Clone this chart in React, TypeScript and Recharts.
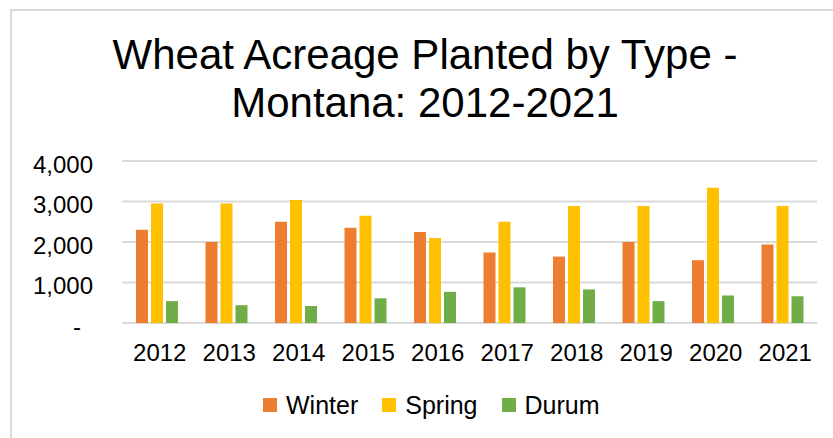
import React from "react";
import { BarChart, Bar, XAxis, YAxis, CartesianGrid } from "recharts";

const years = ["2012", "2013", "2014", "2015", "2016", "2017", "2018", "2019", "2020", "2021"];
const winter = [2300, 2000, 2500, 2350, 2250, 1740, 1640, 2000, 1550, 1940];
const spring = [2950, 2950, 3040, 2650, 2100, 2500, 2890, 2890, 3340, 2890];
const durum = [540, 440, 420, 610, 770, 880, 830, 540, 680, 660];
const yTicks = [0, 1000, 2000, 3000, 4000];

const seriesNames = ["Winter", "Spring", "Durum"];
const seriesColors = ["#ED7D31", "#FFC000", "#70AD47"];

const data = years.map((y, i) => ({ year: y, Winter: winter[i], Spring: spring[i], Durum: durum[i] }));

const FONT = "'Liberation Sans', Arial, sans-serif";

const fmt = (v: number) => (v === 0 ? "-" : v.toLocaleString("en-US"));

const YTick = (props: any) => {
  const { x, y, payload } = props;
  const v = payload.value as number;
  return (
    <text x={x} y={y} dx={v === 0 ? -12 : 0} dy={11.5} textAnchor="end" fontFamily={FONT} fontSize={24} fill="#000">
      {fmt(v)}
    </text>
  );
};

const XTick = (props: any) => {
  const { x, y, payload } = props;
  return (
    <text x={x + 3} y={y} dy={17} textAnchor="middle" fontFamily={FONT} fontSize={24} fill="#000">
      {payload.value}
    </text>
  );
};

export default function App() {
  return (
    <div style={{ position: "absolute", left: 0, top: 0, width: 833, height: 438, background: "#fff", overflow: "hidden" }}>
      <div
        style={{
          position: "absolute",
          left: 10,
          top: 9,
          width: 900,
          height: 500,
          borderTop: "2px solid #d9d9d9",
          borderLeft: "2px solid #d9d9d9",
        }}
      />
      <div
        style={{
          position: "absolute",
          left: 10,
          top: 31,
          width: 830,
          textAlign: "center",
          fontFamily: FONT,
          fontSize: 42,
          lineHeight: "48px",
          color: "#000",
        }}
      >
        Wheat Acreage Planted by Type -<br />
        Montana: 2012-2021
      </div>
      <div style={{ position: "absolute", left: 0, top: 0 }}>
        <BarChart
          width={833}
          height={438}
          data={data}
          margin={{ top: 161, right: 16, left: 0, bottom: 85 }}
          barSize={12}
          barGap={3}
        >
          <CartesianGrid horizontal vertical={false} stroke="#d9d9d9" strokeWidth={2} />
          <XAxis
            dataKey="year"
            axisLine={false}
            tickLine={false}
            height={30}
            tickSize={0}
            tickMargin={21}
            tick={<XTick />}
            interval={0}
          />
          <YAxis
            domain={[0, 4000]}
            ticks={yTicks}
            width={122}
            axisLine={false}
            tickLine={false}
            tickSize={0}
            tickMargin={29}
            tick={<YTick />}
            interval={0}
          />
          {seriesNames.map((n, i) => (
            <Bar key={n} dataKey={n} fill={seriesColors[i]} isAnimationActive={false} />
          ))}
        </BarChart>
      </div>
      <div
        style={{
          position: "absolute",
          left: 263,
          top: 390,
          display: "flex",
          alignItems: "center",
          fontFamily: FONT,
          fontSize: 25,
          lineHeight: "30px",
          color: "#000",
        }}
      >
        {seriesNames.map((n, i) => (
          <div key={n} style={{ display: "flex", alignItems: "center", marginRight: 24 }}>
            <span style={{ display: "inline-block", width: 14, height: 14, background: seriesColors[i], marginRight: 9 }} />
            <span>{n}</span>
          </div>
        ))}
      </div>
    </div>
  );
}
